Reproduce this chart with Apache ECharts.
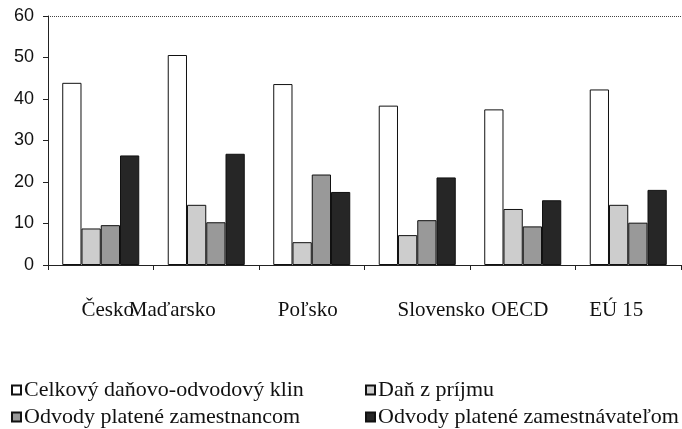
<!DOCTYPE html>
<html>
<head>
<meta charset="utf-8">
<script src="https://cdn.jsdelivr.net/npm/echarts@6/dist/echarts.min.js"></script>
<style>
  html, body { margin: 0; padding: 0; background: #fff; }
  #chart { width: 682px; height: 429px; }
</style>
</head>
<body>
<div id="chart"></div>
<script>
// categories and values
const countries = ['Česko', 'Maďarsko', 'Poľsko', 'Slovensko', 'OECD', 'EÚ 15']
const seriesNames = [
  'Celkový daňovo-odvodový klin',
  'Daň z príjmu',
  'Odvody platené zamestnancom',
  'Odvody platené zamestnávateľom'
]
const klin = [43.9, 50.6, 43.6, 38.4, 37.5, 42.3]
const dan = [8.8, 14.5, 5.5, 7.2, 13.5, 14.5]
const zamestnanec = [9.6, 10.3, 21.8, 10.8, 9.3, 10.2]
const zamestnavatel = [26.4, 26.8, 17.6, 21.1, 15.6, 18.1]
const yTicks = [0, 10, 20, 30, 40, 50, 60]

// the scanned labels are not centred on their groups
const labelShift = [7, -34, -4, 24, -3, -12]
const fills = ['#ffffff', '#cdcdcd', '#999999', '#262626']
const values = [klin, dan, zamestnanec, zamestnavatel]

const rich = {}
labelShift.forEach((dx, i) => {
  rich['l' + i] = {
    fontFamily: 'Liberation Serif',
    fontSize: 21,
    color: '#111',
    padding: dx >= 0 ? [0, 0, 0, 2 * dx] : [0, -2 * dx, 0, 0]
  }
})

const legendBase = {
  orient: 'vertical',
  top: 379,
  padding: 0,
  itemWidth: 9,
  itemHeight: 9,
  itemGap: 5,
  icon: 'rect',
  textStyle: { fontFamily: 'Liberation Serif', fontSize: 22, color: '#111', padding: [0, 0, 0, -2] }
}

const chart = echarts.init(document.getElementById('chart'))

chart.setOption({
  animation: false,
  grid: {
    left: 48,
    right: 1,
    top: 16,
    bottom: 164
  },
  legend: [
    Object.assign({ data: [seriesNames[0], seriesNames[2]], left: 11 }, legendBase),
    Object.assign({ data: [seriesNames[1], seriesNames[3]], left: 365 }, legendBase)
  ],
  xAxis: {
    type: 'category',
    data: countries,
    axisLine: { lineStyle: { color: '#222', width: 1 } },
    axisTick: { show: true, length: 5, lineStyle: { color: '#222' } },
    axisLabel: {
      interval: 0,
      hideOverlap: false,
      margin: 35,
      formatter: (value, idx) => '{l' + idx + '|' + value + '}',
      rich: rich
    }
  },
  yAxis: {
    type: 'value',
    min: yTicks[0],
    max: yTicks[yTicks.length - 1],
    interval: 10,
    axisLine: { show: true, lineStyle: { color: '#222', width: 1 } },
    axisTick: { show: true, length: 5, lineStyle: { color: '#222' } },
    axisLabel: {
      fontFamily: 'Liberation Sans',
      fontSize: 18,
      color: '#111',
      margin: 14
    },
    splitLine: {
      show: true,
      lineStyle: {
        type: 'dotted',
        color: ['transparent', 'transparent', 'transparent', 'transparent', 'transparent', 'transparent', '#444']
      }
    }
  },
  series: seriesNames.map((name, i) => ({
    name: name,
    type: 'bar',
    data: values[i],
    barGap: '0%',
    barCategoryGap: '27%',
    itemStyle: {
      color: fills[i],
      borderColor: '#111',
      borderWidth: 1
    }
  }))
})
</script>
</body>
</html>
